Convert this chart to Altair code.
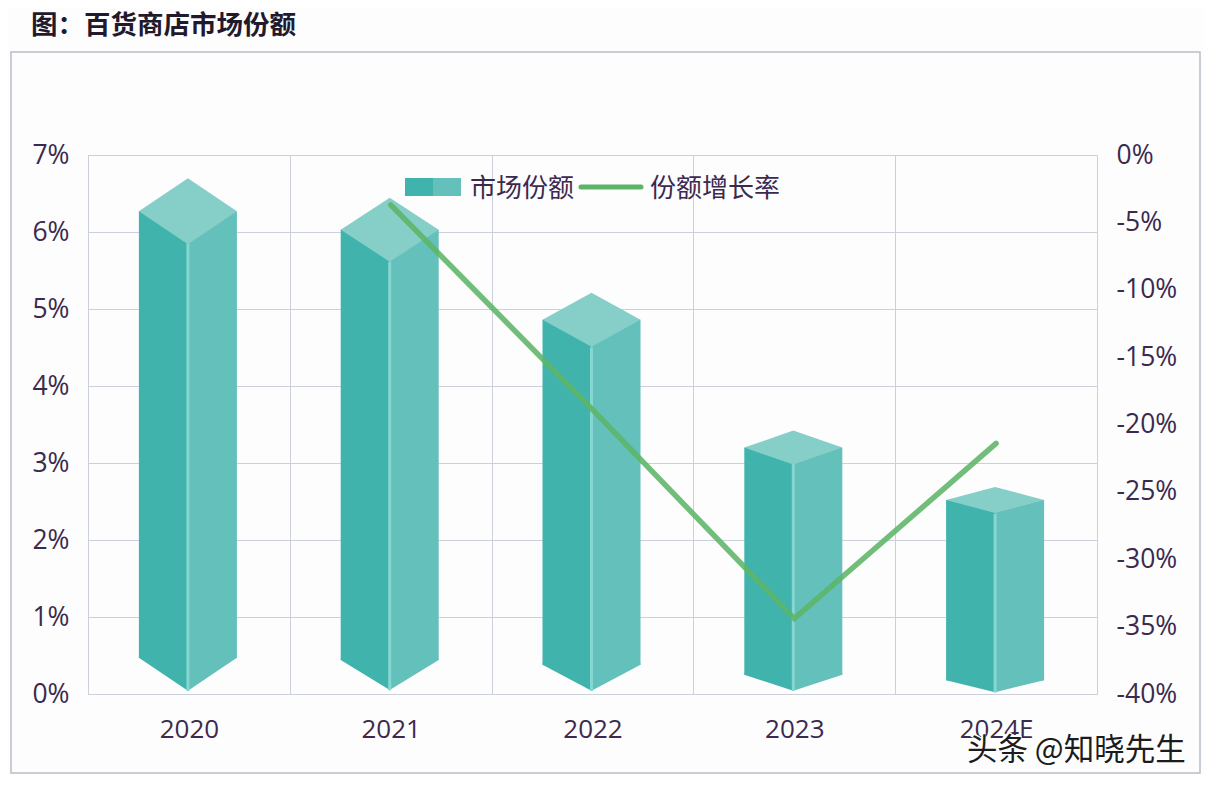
import altair as alt
import pandas as pd

years = ["2020", "2021", "2022", "2023", "2024E"]
share = [6.27, 6.03, 4.86, 3.2, 2.52]
share_base = [0.47, 0.44, 0.38, 0.25, 0.18]
front_top = [5.85, 5.61, 4.5, 2.99, 2.34]
front_bottom = [0.04, 0.05, 0.04, 0.04, 0.02]
top_depth = [33, 32, 27, 17, 13]
bottom_depth = [33, 30, 26, 16, 12]
growth_years = ["2021", "2022", "2023", "2024E"]
growth = [-3.7, -18.9, -34.4, -21.4]
left_ticks = [0, 1, 2, 3, 4, 5, 6, 7]
right_ticks = [0, -5, -10, -15, -20, -25, -30, -35, -40]

INK = "#3b2a4e"
GRID = "#ccd0da"
FONT = "Open Sans"
CJK = "Noto Sans CJK SC"
LEFT = "#40b3ad"
RIGHT = "#63c0bb"
TOP = "#86cfc9"
SEAM = "#86d6d1"

shape_domain, shape_range = [], []
for y, t, b in zip(years, top_depth, bottom_depth):
    dt, db = t / 49, b / 49
    shape_domain += [f"top{y}", f"bl{y}", f"br{y}"]
    shape_range += [
        f"M-1,0L0,{-dt}L1,0L0,{dt}Z",
        f"M-1,-0.03L-1,0L0,{db}L0,-0.03Z",
        f"M1,-0.03L1,0L0,{db}L0,-0.03Z",
    ]

df = pd.DataFrame({
    "year": years, "share": share, "base": share_base,
    "ftop": front_top, "fbot": front_bottom,
    "top": [f"top{y}" for y in years],
    "bl": [f"bl{y}" for y in years],
    "br": [f"br{y}" for y in years],
})
line_df = pd.DataFrame({"year": growth_years, "growth": growth})
one = pd.DataFrame({"a": [0]})

xs = alt.X("year:N", sort=years, title=None,
           scale=alt.Scale(paddingInner=0, paddingOuter=0),
           axis=alt.Axis(tickBand="extent", grid=True, gridColor=GRID, gridWidth=1,
                         ticks=False, domain=False, labelAngle=0, labelFont=FONT,
                         labelFontSize=26, labelColor=INK, labelPadding=35,
                         labelBaseline="middle"))
domL = alt.Scale(domain=[0, 7])
shape_scale = alt.Scale(domain=shape_domain, range=shape_range)

def yL(field, axis=None):
    return alt.Y(f"{field}:Q", scale=domL, title=None, axis=axis)

left_axis = alt.Axis(values=left_ticks, labelExpr="datum.value + '%'", grid=True,
                     gridColor=GRID, gridWidth=1, ticks=False, domain=False,
                     labelFont=FONT, labelFontSize=26.5, labelColor=INK, labelPadding=19)

base = alt.Chart(df)
left_face = base.mark_bar(size=49, xOffset=-25.5, color=LEFT).encode(
    x=xs, y=yL("share", left_axis), y2="base:Q")
right_face = base.mark_bar(size=49, xOffset=23.5, color=RIGHT).encode(
    x=xs, y=yL("share"), y2="base:Q")

def cap(field, color):
    return base.mark_point(filled=True, size=9604, opacity=1, strokeWidth=0, color=color,
                           xOffset=-1).encode(
        x=xs, y=yL("base" if field != "top" else "share"),
        shape=alt.Shape(f"{field}:N", scale=shape_scale, legend=None))

seam = base.mark_rule(color=SEAM, strokeWidth=3, xOffset=-1).encode(
    x=xs, y=yL("ftop"), y2="fbot:Q")

line = alt.Chart(line_df).mark_line(color="#5cb566", strokeWidth=5.5, opacity=0.88,
                                    strokeCap="round").encode(
    x=alt.X("year:N", sort=years),
    y=alt.Y("growth:Q", title=None, scale=alt.Scale(domain=[-40, 0]),
            axis=alt.Axis(orient="right", values=right_ticks,
                          labelExpr="datum.value + '%'", grid=False, ticks=False,
                          domain=False, labelFont=FONT, labelFontSize=26.5, labelColor=INK,
                          labelPadding=19, labelAlign="left")))

def txt(s, x, y, size, color=INK, font=CJK, **kw):
    return alt.Chart(one).mark_text(align="left", baseline="middle", font=font,
                                    fontSize=size, color=color, **kw).encode(
        x=alt.value(x), y=alt.value(y), text=alt.value(s))

def box(x, x2, y, y2, **kw):
    return alt.Chart(one).mark_rect(**kw).encode(
        x=alt.value(x), x2=alt.value(x2), y=alt.value(y), y2=alt.value(y2))

frame = box(-77, 1112, -103, 618, fill="transparent", stroke="#b7bdc9", strokeWidth=1.5)
title = txt("图：百货商店市场份额", -57, -129, 26.5, color="#221a2c", fontWeight="bold")
swatch_l = box(317, 345, 23, 41, fill=LEFT)
swatch_r = box(345, 373, 23, 41, fill=RIGHT)
legend_a = txt("市场份额", 382, 34, 26)
legend_line = alt.Chart(one).mark_rule(color="#5cb566", strokeWidth=5, strokeCap="round").encode(
    x=alt.value(493), x2=alt.value(553), y=alt.value(32))
legend_b = txt("份额增长率", 562, 34, 26)
mark_white = txt("头条 @知晓先生", 878, 595, 30.5, color="#ffffff", stroke="#ffffff", strokeWidth=2)
mark_ink = txt("头条 @知晓先生", 879, 596, 30.5, color="#1c1c20")

chart = alt.layer(
    left_face, right_face, cap("bl", LEFT), cap("br", RIGHT), seam, cap("top", TOP),
    line, frame, title, swatch_l, swatch_r, legend_a, legend_line, legend_b,
    mark_white, mark_ink,
).resolve_scale(y="independent").properties(
    width=1009, height=539,
    autosize=alt.AutoSizeParams(type="none"),
    padding={"left": 80, "top": 147, "right": 107, "bottom": 80},
    background="#fdfdfe",
).configure_view(stroke=GRID, strokeWidth=1)

chart.save("out.html", embed_options={"renderer": "svg", "actions": False})
